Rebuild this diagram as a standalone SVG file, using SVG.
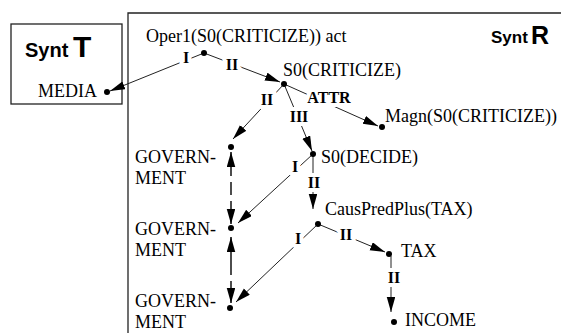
<svg xmlns="http://www.w3.org/2000/svg" width="561" height="333" viewBox="0 0 561 333">
  <style>
    .frame { fill: none; stroke: #222; stroke-width: 1.3; }
    .node { font-family: "Liberation Serif", "Times New Roman", serif; font-size: 18px; fill: #000; }
    .dot { fill: #000; }
    .edge { fill: none; stroke: #222; stroke-width: 1; marker-end: url(#arrow); }
    .coref { fill: none; stroke: #000; stroke-width: 1.4; marker-end: url(#arrow); }
    .lbl { font-family: "Liberation Serif", "Times New Roman", serif; font-size: 16px; font-weight: bold; fill: #000; text-anchor: middle; stroke: #fff; stroke-width: 8; paint-order: stroke; stroke-linejoin: round; }
    .synt { font-family: "Liberation Sans", Arial, sans-serif; font-weight: bold; fill: #000; }
  </style>
  <defs>
    <marker id="arrow" markerUnits="userSpaceOnUse" markerWidth="17" markerHeight="10" refX="15" refY="4.25" orient="auto">
      <path d="M0,0 L15,4.25 L0,8.5 Z" fill="#000"/>
    </marker>
  </defs>
  <rect width="561" height="333" fill="#fff"/>

  <!-- frames of the two structures -->
  <rect class="frame" x="11" y="24" width="111" height="80"/>
  <path class="frame" d="M128,333 V13 H561"/>
  <text class="synt" x="25" y="57" font-size="20">Synt</text>
  <text class="synt" x="73" y="57" font-size="30">T</text>
  <text class="synt" x="491" y="43" font-size="17">Synt</text>
  <text class="synt" x="531" y="44" font-size="25">R</text>

  <!-- connectors -->
  <g id="connectors">
    <line class="edge" x1="204" y1="53" x2="110" y2="91"/>
    <line class="edge" x1="204" y1="53" x2="280" y2="82"/>
    <line class="edge" x1="284" y1="84" x2="233" y2="139"/>
    <line class="edge" x1="284" y1="84" x2="378" y2="126"/>
    <line class="edge" x1="284" y1="84" x2="312" y2="151"/>
    <line class="edge" x1="313" y1="154" x2="238" y2="223"/>
    <line class="edge" x1="313" y1="156" x2="313" y2="209"/>
    <line class="edge" x1="318" y1="224" x2="236" y2="302"/>
    <line class="edge" x1="318" y1="224" x2="385" y2="252"/>
    <line class="edge" x1="391" y1="256" x2="391" y2="312"/>
    <!-- coreference links -->
    <line class="coref" x1="231" y1="176" x2="231" y2="152"/>
    <line x1="231" y1="182" x2="231" y2="195" stroke="#000" stroke-width="1.4"/>
    <line class="coref" x1="231" y1="201" x2="231" y2="224"/>
    <line class="coref" x1="231" y1="275" x2="231" y2="237"/>
    <line class="coref" x1="231" y1="281" x2="231" y2="303"/>
    <!-- relation labels -->
    <text class="lbl" x="186" y="63">I</text>
    <text class="lbl" x="232" y="70">II</text>
    <text class="lbl" x="267" y="105">II</text>
    <text class="lbl" x="329" y="103">ATTR</text>
    <text class="lbl" x="299" y="122">III</text>
    <text class="lbl" x="295" y="172">I</text>
    <text class="lbl" x="314" y="188">II</text>
    <text class="lbl" x="298" y="244">I</text>
    <text class="lbl" x="346" y="240">II</text>
    <text class="lbl" x="394" y="283">II</text>
  </g>

  <g id="oper1">
    <circle class="dot" cx="204" cy="53" r="3"/>
    <text class="node" x="146" y="42">Oper1(S0(CRITICIZE)) act</text>
  </g>
  <g id="media">
    <circle class="dot" cx="107" cy="92" r="3"/>
    <text class="node" x="38" y="97">MEDIA</text>
  </g>
  <g id="s0-criticize">
    <circle class="dot" cx="284" cy="84" r="3"/>
    <text class="node" x="283" y="76">S0(CRITICIZE)</text>
  </g>
  <g id="magn">
    <circle class="dot" cx="382" cy="127" r="3"/>
    <text class="node" x="385" y="122">Magn(S0(CRITICIZE))</text>
  </g>
  <g id="s0-decide">
    <circle class="dot" cx="313" cy="154" r="3"/>
    <text class="node" x="321" y="163">S0(DECIDE)</text>
  </g>
  <g id="causpredplus">
    <circle class="dot" cx="318" cy="224" r="3"/>
    <text class="node" x="325" y="215">CausPredPlus(TAX)</text>
  </g>
  <g id="tax">
    <circle class="dot" cx="389" cy="254" r="3"/>
    <text class="node" x="401" y="257">TAX</text>
  </g>
  <g id="income">
    <circle class="dot" cx="394" cy="322" r="3"/>
    <text class="node" x="405" y="326">INCOME</text>
  </g>
  <g id="government-1">
    <circle class="dot" cx="231" cy="147" r="3"/>
    <text class="node" x="135" y="163">GOVERN-</text>
    <text class="node" x="135" y="184">MENT</text>
  </g>
  <g id="government-2">
    <circle class="dot" cx="231" cy="228" r="3"/>
    <text class="node" x="135" y="235">GOVERN-</text>
    <text class="node" x="135" y="256">MENT</text>
  </g>
  <g id="government-3">
    <circle class="dot" cx="230" cy="308" r="3"/>
    <text class="node" x="135" y="307">GOVERN-</text>
    <text class="node" x="135" y="328">MENT</text>
  </g>
</svg>
